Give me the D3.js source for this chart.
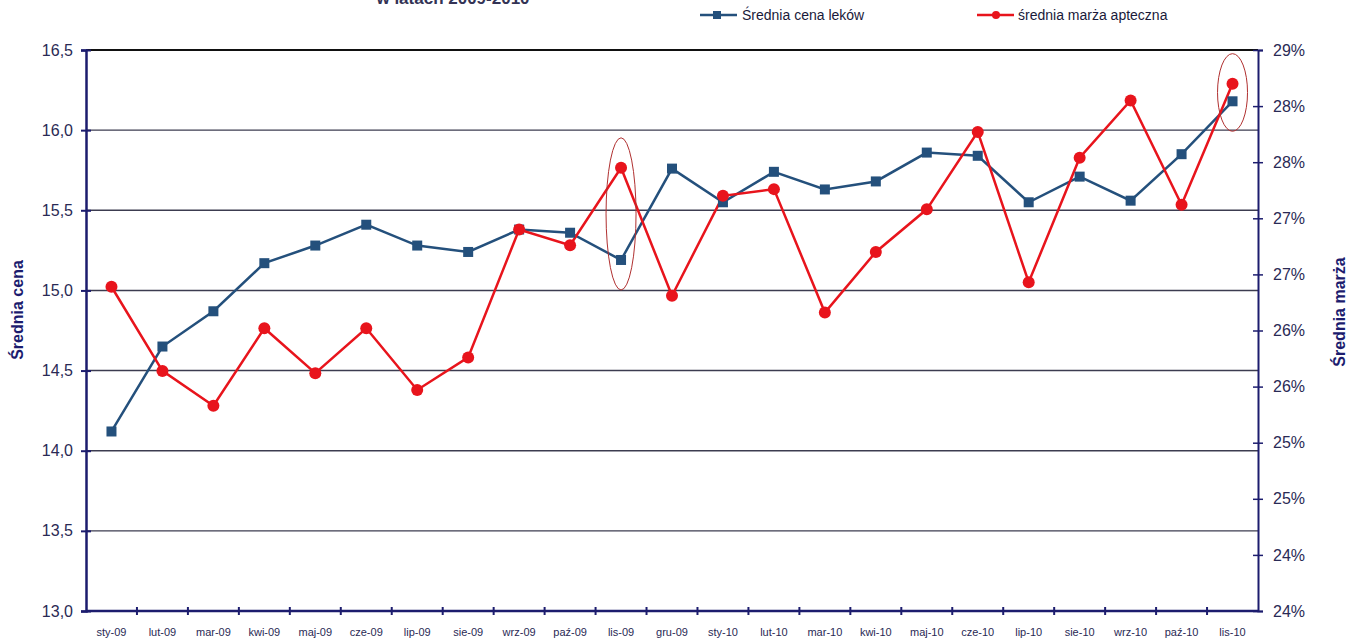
<!DOCTYPE html>
<html><head><meta charset="utf-8">
<script src="https://cdn.jsdelivr.net/npm/d3@7"></script>
<style>body{margin:0;background:#fff}svg{display:block}text{font-family:"Liberation Sans",Arial,sans-serif}</style>
</head><body><svg id="c" width="1360" height="643"></svg>
<script>
const categories = ["sty-09","lut-09","mar-09","kwi-09","maj-09","cze-09","lip-09","sie-09","wrz-09","paź-09","lis-09","gru-09","sty-10","lut-10","mar-10","kwi-10","maj-10","cze-10","lip-10","sie-10","wrz-10","paź-10","lis-10"];
const cenaLekow = [14.12,14.65,14.87,15.17,15.28,15.41,15.28,15.24,15.38,15.36,15.19,15.76,15.55,15.74,15.63,15.68,15.86,15.84,15.55,15.71,15.56,15.85,16.18];
const marzaApteczna = [26.89,26.14,25.83,26.52,26.12,26.52,25.97,26.26,27.40,27.26,27.95,26.81,27.70,27.76,26.66,27.20,27.58,28.27,26.93,28.04,28.55,27.62,28.70];
const leftTicks = [13.0,13.5,14.0,14.5,15.0,15.5,16.0,16.5];
const leftTickLabels = ["13,0","13,5","14,0","14,5","15,0","15,5","16,0","16,5"];
const rightTicks = [24,24.5,25,25.5,26,26.5,27,27.5,28,28.5,29];
const rightTickLabels = ["24%","24%","25%","25%","26%","26%","27%","27%","28%","28%","29%"];
const highlighted = ["lis-09","lis-10"];
const seriesNames = ["Średnia cena leków","średnia marża apteczna"];
const title = "w latach 2009-2010";

const L=86,R=1258,T=50,B=611;
const navy="#1c1c6e", blue="#24507c", red="#e8141c", txt="#2a2a55";
const svg=d3.select("#c");
const x=d3.scaleBand().domain(categories).range([L,R]);
const yL=d3.scaleLinear().domain([13,16.5]).range([B,T]);
const yR=d3.scaleLinear().domain([24,29]).range([B,T]);

// title (partly above the top edge, as in the reference)
svg.append("text").attr("x",453).attr("y",4).attr("text-anchor","middle").attr("font-size",17).attr("font-weight","bold").attr("fill","#333355").text(title);

// gridlines
svg.append("g").selectAll("line").data(leftTicks.filter(v=>v>13&&v<16.5)).join("line")
 .attr("x1",L).attr("x2",R).attr("y1",d=>yL(d)).attr("y2",d=>yL(d)).attr("stroke","#3c3c50").attr("stroke-width",1.4);
svg.append("line").attr("x1",L).attr("x2",R).attr("y1",T).attr("y2",T).attr("stroke","#111").attr("stroke-width",1.8);

// left axis
const gl=svg.append("g").attr("transform",`translate(${L},0)`).call(d3.axisLeft(yL).tickValues(leftTicks).tickFormat((d,i)=>leftTickLabels[i]).tickSize(5).tickPadding(8));
gl.select(".domain").attr("stroke",navy).attr("stroke-width",2.5);
gl.selectAll(".tick line").attr("stroke",navy).attr("stroke-width",2).attr("x2",-5).attr("x1",5);
gl.selectAll(".tick text").attr("font-size",16).attr("fill",txt);

// right axis
const gr=svg.append("g").attr("transform",`translate(${R},0)`).call(d3.axisRight(yR).tickValues(rightTicks).tickFormat((d,i)=>rightTickLabels[i]).tickSize(5).tickPadding(10));
gr.select(".domain").attr("stroke",navy).attr("stroke-width",2);
gr.selectAll(".tick line").attr("stroke",navy).attr("stroke-width",1.5).attr("x1",-5).attr("x2",5);
gr.selectAll(".tick text").attr("font-size",16).attr("fill",txt);

// bottom axis
const gb=svg.append("g").attr("transform",`translate(0,${B})`);
gb.append("line").attr("x1",L).attr("x2",R).attr("stroke",navy).attr("stroke-width",2.5);
gb.selectAll("line.t").data(categories.slice(1)).join("line").attr("class","t")
 .attr("x1",d=>x(d)).attr("x2",d=>x(d)).attr("y1",-4).attr("y2",4).attr("stroke",navy).attr("stroke-width",2);
gb.selectAll("text").data(categories).join("text").attr("x",d=>x(d)+x.bandwidth()/2).attr("y",25)
 .attr("text-anchor","middle").attr("font-size",11).attr("fill",txt).text(d=>d);

// axis titles
svg.append("text").attr("transform","translate(23,310) rotate(-90)").attr("text-anchor","middle").attr("font-size",16).attr("font-weight","bold").attr("fill",navy).text("Średnia cena");
svg.append("text").attr("transform","translate(1345,312) rotate(-90)").attr("text-anchor","middle").attr("font-size",16).attr("font-weight","bold").attr("fill",navy).text("Średnia marża");

const cx=d=>x(d)+x.bandwidth()/2;
// lines
svg.append("path").datum(categories).attr("fill","none").attr("stroke",blue).attr("stroke-width",2.5)
 .attr("d",d3.line().x(cx).y((d,i)=>yL(cenaLekow[i])));
svg.append("path").datum(categories).attr("fill","none").attr("stroke",red).attr("stroke-width",2.5)
 .attr("d",d3.line().x(cx).y((d,i)=>yR(marzaApteczna[i])));
svg.append("g").selectAll("rect").data(categories).join("rect").attr("x",d=>cx(d)-5).attr("y",(d,i)=>yL(cenaLekow[i])-5)
 .attr("width",10).attr("height",10).attr("fill",blue);
svg.append("g").selectAll("circle").data(categories).join("circle").attr("cx",cx).attr("cy",(d,i)=>yR(marzaApteczna[i]))
 .attr("r",6).attr("fill",red);

// highlight ellipses
svg.append("g").selectAll("ellipse").data(highlighted).join("ellipse")
 .attr("cx",d=>cx(d))
 .attr("cy",d=>{const k=categories.indexOf(d);return (yR(marzaApteczna[k])+yL(cenaLekow[k]))/2;})
 .attr("rx",15)
 .attr("ry",d=>{const k=categories.indexOf(d);return Math.abs(yL(cenaLekow[k])-yR(marzaApteczna[k]))/2+30;})
 .attr("fill","none").attr("stroke","#b03030").attr("stroke-width",1);

// legend
const lg=svg.append("g");
lg.append("line").attr("x1",700).attr("x2",737).attr("y1",15).attr("y2",15).attr("stroke",blue).attr("stroke-width",2.5);
lg.append("rect").attr("x",713).attr("y",11).attr("width",8).attr("height",8).attr("fill",blue);
lg.append("text").attr("x",742).attr("y",20).attr("font-size",14).attr("fill","#1a1a3a").text(seriesNames[0]);
lg.append("line").attr("x1",977).attr("x2",1014).attr("y1",15).attr("y2",15).attr("stroke",red).attr("stroke-width",2.5);
lg.append("circle").attr("cx",996).attr("cy",15).attr("r",4).attr("fill",red);
lg.append("text").attr("x",1018).attr("y",20).attr("font-size",14).attr("fill","#1a1a3a").text(seriesNames[1]);
</script></body></html>
